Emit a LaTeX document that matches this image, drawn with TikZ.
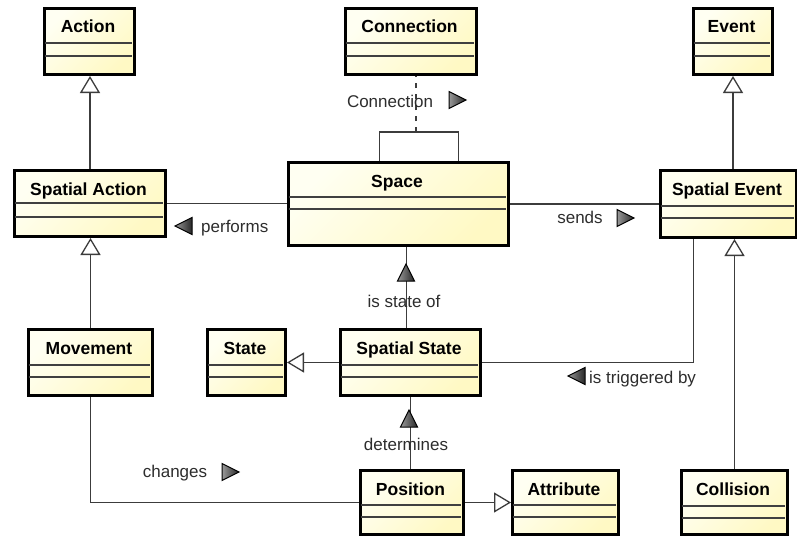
\documentclass[tikz,border=0pt]{standalone}
\usepackage{fontspec}
\setmainfont{Liberation Sans}
\usetikzlibrary{arrows.meta}

\definecolor{boxlight}{RGB}{255,255,242}
\definecolor{boxyellow}{RGB}{255,249,196}
\definecolor{linegray}{RGB}{60,60,60}
\definecolor{labelgray}{RGB}{45,45,45}

% UML class: name, left, top, right, bottom, first separator, second separator, title
\newcommand\umlclass[8]{%
  \node[classbox, minimum width={(#4-#2)*1pt}, minimum height={(#5-#3)*1pt},
        anchor=north west] (#1) at (#2,#3) {};
  \draw[sepline] (#2+1.5,#6) -- (#4-1.5,#6) (#2+1.5,#7) -- (#4-1.5,#7);
  \node[classtitle] (#1-title) at ({(#2+#4)/2},{#3+26}) {#8};
}

\tikzset{
  classbox/.style={draw=black, line width=3pt, inner sep=0pt,
    top color=boxlight, bottom color=boxyellow, shading angle=45},
  sepline/.style={draw=black!75, line width=1.4pt},
  classtitle/.style={font=\bfseries\fontsize{17.5}{20}\selectfont, text=black,
    inner sep=0pt, anchor=base},
  assoc/.style={draw=linegray, line width=1.3pt},
  gen/.style={assoc, -{Triangle[open, width=20pt, length=17pt]}},
  assocclass/.style={assoc, dash pattern=on 5pt off 6pt},
  lbl/.style={font=\fontsize{17}{20}\selectfont, text=labelgray, inner sep=0pt, anchor=base},
  dirfill/.style={draw=black, line width=1pt, line join=miter,
    left color=black!40, right color=black!85},
  pics/dirmark/.style={code={\path[dirfill] (-8pt,8.5pt) -- (9pt,0pt) -- (-8pt,-8.5pt) -- cycle;}}
}

\begin{document}
\begin{tikzpicture}[x=1pt, y=-1pt]
\useasboundingbox (0,0) rectangle (797,535);
\fill[white] (0,0) rectangle (797,535);

% classes
\umlclass{act}{43}{7}{133}{73}{43}{56}{Action}
\umlclass{conn}{344}{7}{475}{73}{43}{56}{Connection}
\umlclass{evt}{692}{7}{771}{73}{43}{56}{Event}
\umlclass{sact}{13}{169}{164}{235}{203}{217}{Spatial Action}
\umlclass{space}{287}{161}{507}{244}{197}{209}{Space}
\umlclass{sevt}{659}{169}{795}{236}{206}{218}{Spatial Event}
\umlclass{mov}{27}{328}{151}{394}{365}{377}{Movement}
\umlclass{state}{206}{328}{284}{394}{365}{377}{State}
\umlclass{sstate}{339}{328}{479}{394}{365}{377}{Spatial State}
\umlclass{pos}{359}{469}{462}{533}{505}{517}{Position}
\umlclass{attr}{511}{469}{617}{533}{505}{517}{Attribute}
\umlclass{coll}{680}{469}{786}{533}{506}{518}{Collision}

% generalizations
\draw[gen] (sact.north) -- (sact.north |- act.south);
\draw[gen] (mov.north) -- (mov.north |- sact.south);
\draw[gen] (sevt.north -| evt.south) -- (evt.south);
\draw[gen] (coll.north) -- (coll.north |- sevt.south);
\draw[gen] (sstate.west) -- (sstate.west -| state.east);
\draw[gen] (pos.east) -- (pos.east -| attr.west);

% associations
\draw[assoc] (sact.east) -- (sact.east -| space.west);
\draw[assoc] (space.east) -- (space.east -| sevt.west);
\draw[assoc] ([xshift=-4pt]sstate.north) -- ([xshift=-4pt]sstate.north |- space.south);
\draw[assoc] (sstate.south) -- (sstate.south |- pos.north);
\draw[assoc] (sstate.east) -| ([xshift=-35pt]sevt.south);
\draw[assoc] (mov.south) |- (pos.west);

% reflexive association on Space with its association class
\coordinate (loopmid) at (416,132);
\draw[assoc] ([xshift=-19pt]space.north) |- (loopmid) -| ([xshift=60pt]space.north);
\draw[assocclass] (loopmid) -- (loopmid |- conn.south);

% association names with reading direction
\node[lbl] (lconn) at (390,107) {Connection};
\pic at (457,100) {dirmark};
\node[lbl, anchor=base west] (lperf) at (201,232) {performs};
\pic[rotate=180] at (184,226) {dirmark};
\node[lbl] (lsend) at (580,223) {sends};
\pic at (625,218) {dirmark};
\node[lbl] (lstate) at (404,307) {is state of};
\pic[rotate=90] at (406,273) {dirmark};
\node[lbl] (ldet) at (406,450) {determines};
\pic[rotate=90] at (409,419) {dirmark};
\node[lbl, anchor=base west] (ltrig) at (589,383) {is triggered by};
\pic[rotate=180] at (577,376) {dirmark};
\node[lbl] (lchg) at (175,477) {changes};
\pic at (230,472) {dirmark};
\end{tikzpicture}
\end{document}
